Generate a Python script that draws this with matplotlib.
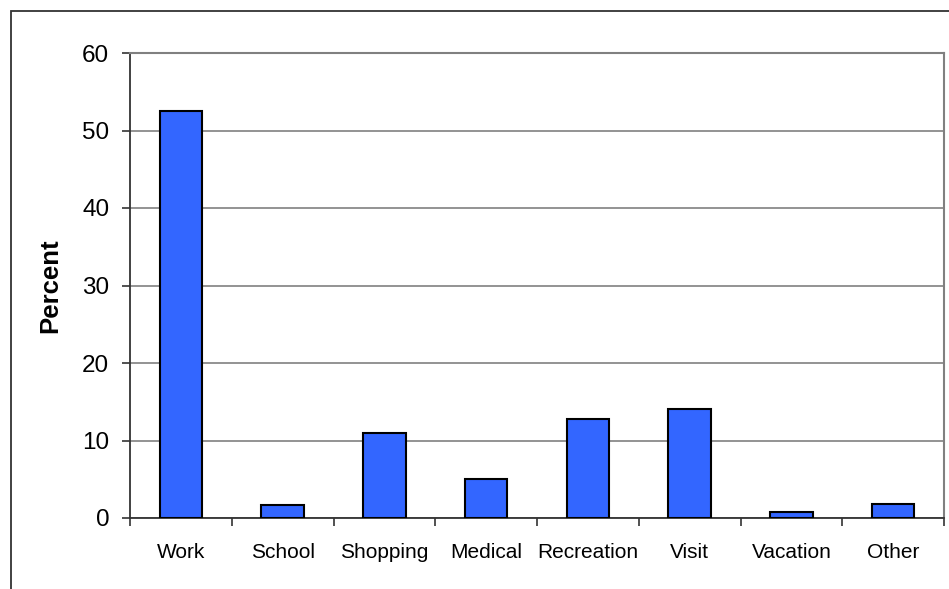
import matplotlib
matplotlib.use("Agg")
import matplotlib.pyplot as plt
from matplotlib.patches import Rectangle
import numpy as np

categories = ["Work", "School", "Shopping", "Medical", "Recreation", "Visit", "Vacation", "Other"]
values = [52.5, 1.7, 11.0, 5.0, 12.8, 14.1, 0.75, 1.75]
yticks = [0, 10, 20, 30, 40, 50, 60]

plt.rcParams['font.family'] = ['Liberation Sans', 'DejaVu Sans']

fig = plt.figure(figsize=(9.49, 5.89), dpi=100)
ax = fig.add_axes([130/949, 1-518/589, (944-130)/949, (518-53)/589])

x = np.arange(len(categories))
ax.bar(x, values, width=0.42, color='#3366FF', edgecolor='black', linewidth=1.5, zorder=3)

ax.set_xlim(-0.5, len(categories)-0.5)
ax.set_ylim(0, 60)
ax.set_yticks(yticks)
ax.set_yticklabels([str(v) for v in yticks], fontsize=17.5)
ax.yaxis.grid(True, color='#808080', linewidth=1.2, zorder=0)
ax.set_axisbelow(True)

ax.set_xticks(x)
ax.set_xticklabels(categories, fontsize=15)
ax.set_xticks(np.arange(len(categories)+1)-0.5, minor=True)
ax.tick_params(axis='x', which='major', length=0, pad=18)
ax.tick_params(axis='x', which='minor', length=6, width=1.2, color='#333333', direction='out')
ax.tick_params(axis='y', length=6, width=1.2, color='#333333', direction='out', pad=9)

ax.set_ylabel('Percent', fontsize=18.5, fontweight='bold', labelpad=14)

for s in ['left', 'bottom']:
    ax.spines[s].set_color('#333333')
    ax.spines[s].set_linewidth(1.3)
for s in ['top', 'right']:
    ax.spines[s].set_color('#808080')
    ax.spines[s].set_linewidth(1.5)

# outer chart frame
frame = Rectangle((11/949, -0.1), 1.2, 1 - 11/589 + 0.1, transform=fig.transFigure,
                  fill=False, edgecolor='#333333', linewidth=1.3, clip_on=False)
fig.patches.append(frame)

fig.savefig('out.png', dpi=100)
